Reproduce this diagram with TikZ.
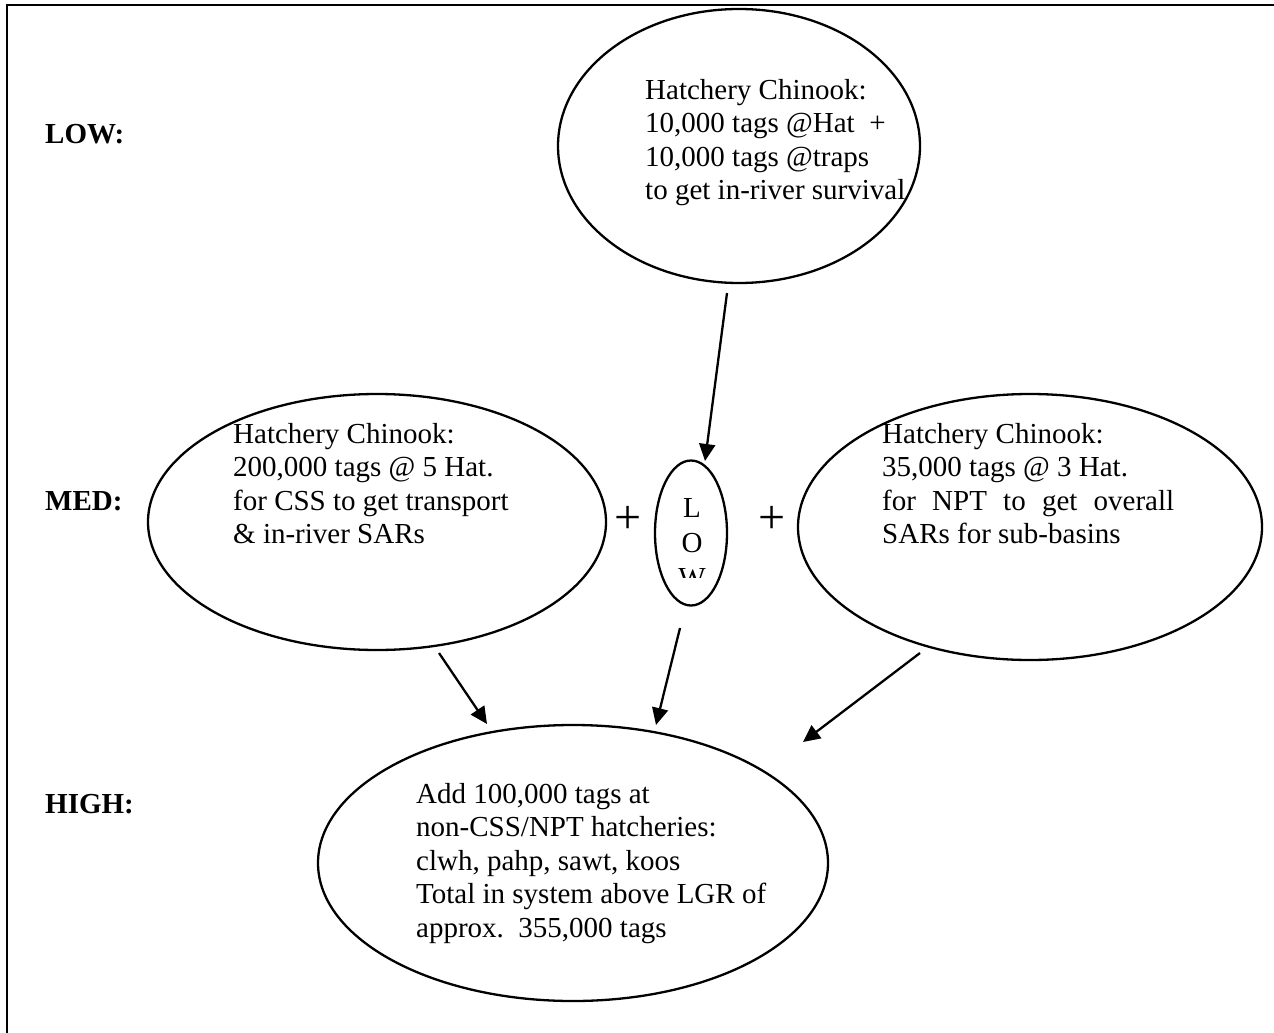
\documentclass[tikz,border=0pt]{standalone}
\usepackage{fontspec}
\setmainfont{Liberation Serif}
\usetikzlibrary{shapes.geometric,arrows.meta}
\tikzset{
  oval/.style={ellipse, draw, line width=2.3pt, inner sep=0pt},
  body/.style={anchor=north west, inner sep=0pt, align=left,
    font=\fontsize{29}{33.5}\selectfont},
  level/.style={anchor=base west, inner sep=0pt,
    font=\fontsize{29}{33.5}\selectfont\bfseries},
  letter/.style={anchor=base, inner sep=0pt,
    font=\fontsize{29}{33.5}\selectfont},
  plus/.style={inner sep=0pt, font=\fontsize{48}{48}\selectfont},
  flow/.style={line width=2.3pt, -{Triangle[length=17pt,width=16pt]}}
}
\begin{document}
\begin{tikzpicture}[x=1pt,y=-1pt]
\useasboundingbox (0,0) rectangle (1274,1033);
% frame: left and top edges
\coordinate (fbl) at (7,1033);
\coordinate (ftl) at (7,5);
\coordinate (ftr) at (1274,5);
\draw[line width=2.3pt] (fbl) -- (ftl) -- (ftr);

% level labels
\node[level] (lblLow) at (45,143) {LOW:};
\node[level] (lblMed) at (45,510) {MED:};
\node[level] (lblHigh) at (45,813) {HIGH:};

% ellipses
\node[oval, minimum width=362, minimum height=274] (top) at (739,146) {};
\node[oval, minimum width=458, minimum height=256] (left) at (377,522) {};
\node[oval, minimum width=72, minimum height=145] (small) at (691,533) {};
\node[oval, minimum width=464, minimum height=266] (right) at (1030,527) {};
\node[oval, minimum width=510, minimum height=276] (bottom) at (573,863) {};

% texts inside the ellipses
\node[body] (topText) at (645,75.5) {\strut Hatchery Chinook:\\
10,000 tags @Hat\ \ +\\
10,000 tags @traps\\
to get in-river survival};
\node[body] (leftText) at (233,419.5) {\strut Hatchery Chinook:\\
200,000 tags @ 5 Hat.\\
for CSS to get transport\\
\& in-river SARs};
\node[body] (rightText) at (882,419.5) {\strut Hatchery Chinook:\\
35,000 tags @ 3 Hat.\\
\makebox[292pt][s]{for NPT to get overall}\\
SARs for sub-basins};
\node[body] (bottomText) at (416,779.5) {\strut Add 100,000 tags at\\
non-CSS/NPT hatcheries:\\
clwh, pahp, sawt, koos\\
Total in system above LGR of\\
approx.\ \ 355,000 tags};

% vertical word in the small ellipse, last letter cut off
\node[letter] (lowL) at (692,517) {L};
\node[letter] (lowO) at (692,552) {O};
\begin{scope}
  \clip (650,560) rectangle (735,577);
  \node[letter] (lowW) at (692,587) {W};
\end{scope}

% plus signs
\node[plus] (plusA) at (628,520) {+};
\node[plus] (plusB) at (772,520) {+};

% arrows
\coordinate (a1s) at (727,293);
\coordinate (a1e) at (705,461);
\coordinate (a2s) at (439,653);
\coordinate (a2e) at (487,724);
\coordinate (a3s) at (680,628);
\coordinate (a3e) at (656,725);
\coordinate (a4s) at (920,653);
\coordinate (a4e) at (803,742);
\draw[flow] (a1s) -- (a1e);
\draw[flow] (a2s) -- (a2e);
\draw[flow] (a3s) -- (a3e);
\draw[flow] (a4s) -- (a4e);
\end{tikzpicture}
\end{document}
